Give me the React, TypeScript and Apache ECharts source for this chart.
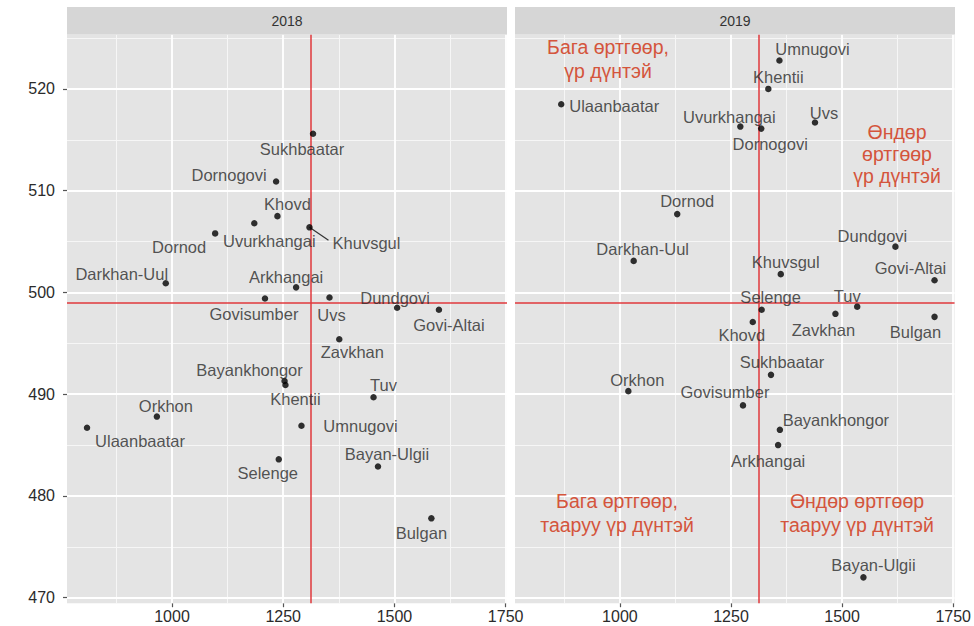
import { useEffect, useRef } from "react";
import * as echarts from "echarts";

// ---- data ----
const regions = [
  "Arkhangai", "Bayan-Ulgii", "Bayankhongor", "Bulgan", "Govi-Altai", "Govisumber",
  "Darkhan-Uul", "Dornogovi", "Dornod", "Dundgovi", "Zavkhan", "Orkhon",
  "Uvurkhangai", "Umnugovi", "Sukhbaatar", "Selenge", "Tuv", "Uvs",
  "Khovd", "Khuvsgul", "Khentii", "Ulaanbaatar",
];
const cost2018 = [1279, 1463, 1253, 1583, 1600, 1209, 986, 1234, 1097, 1506, 1376, 966, 1185, 1291, 1317, 1240, 1453, 1354, 1237, 1309, 1255, 809];
const score2018 = [500.5, 482.9, 491.3, 477.8, 498.3, 499.4, 500.9, 510.9, 505.8, 498.5, 495.4, 487.8, 506.8, 486.9, 515.6, 483.6, 489.7, 499.5, 507.5, 506.4, 490.9, 486.7];
const cost2019 = [1356, 1548, 1360, 1708, 1708, 1277, 1031, 1318, 1129, 1620, 1485, 1019, 1271, 1359, 1340, 1319, 1534, 1439, 1299, 1362, 1334, 868];
const score2019 = [485.0, 472.0, 486.5, 497.6, 501.2, 488.9, 503.1, 516.1, 507.7, 504.5, 497.9, 490.3, 516.3, 522.8, 491.9, 498.3, 498.6, 516.7, 497.1, 501.8, 520.0, 518.5];
const years = ["2018", "2019"];
const refCost = [1311, 1312];
const refScore = [499, 499];
const xTicks = [1000, 1250, 1500, 1750];
const xMinorTicks = [875, 1125, 1375, 1625];
const yTicks = [470, 480, 490, 500, 510, 520];
const yMinorTicks = [475, 485, 495, 505, 515, 525];
const notesTopLeft = ["Бага өртгөөр,", "үр дүнтэй"];
const notesTopRight = ["Өндөр", "өртгөөр", "үр дүнтэй"];
const notesBottomLeft = ["Бага өртгөөр,", "тааруу үр дүнтэй"];
const notesBottomRight = ["Өндөр өртгөөр", "тааруу үр дүнтэй"];

// ---- layout (label placement in pixels, like ggrepel) ----
const labelOffsets: Record<string, number[]>[] = [
  {
    Sukhbaatar: [-11, 15], Dornogovi: [-47, -7], Khovd: [10, -12], Uvurkhangai: [15, 18],
    Dornod: [-36, 14], Khuvsgul: [57, 16], "Darkhan-Uul": [-44, -9], Arkhangai: [-10, -10],
    Govisumber: [-11, 15], Uvs: [2, 17], Dundgovi: [-2, -10], "Govi-Altai": [10, 15],
    Zavkhan: [13, 13], Bayankhongor: [-35, -11], Khentii: [10, 14], Tuv: [10, -12],
    Orkhon: [9, -11], Ulaanbaatar: [53, 13], Umnugovi: [59, 0], Selenge: [-11, 14],
    "Bayan-Ulgii": [9, -12], Bulgan: [-10, 15],
  },
  {
    Umnugovi: [33, -11], Khentii: [10, -12], Ulaanbaatar: [53, 2], Uvurkhangai: [-11, -10],
    Dornogovi: [9, 15], Uvs: [9, -10], Dornod: [10, -13], Dundgovi: [-23, -11],
    "Darkhan-Uul": [9, -12], Khuvsgul: [5, -12], "Govi-Altai": [-24, -12], Selenge: [9, -13],
    Tuv: [-10, -11], Zavkhan: [-12, 16], Bulgan: [-19, 15], Khovd: [-11, 13],
    Sukhbaatar: [11, -13], Orkhon: [9, -11], Govisumber: [-18, -13], Bayankhongor: [56, -10],
    Arkhangai: [-10, 16], "Bayan-Ulgii": [10, -12],
  },
];

const FONT = "'Liberation Sans', Arial, sans-serif";
const X_MIN = 764;
const X_MAX = 1753;
const Y_MIN = 469.46;
const Y_MAX = 525.34;
const PANELS = [
  { left: 67, width: 440 },
  { left: 515, width: 440 },
];
const TOP = 34.6;
const BOTTOM = 603.2;
const NOTE_COLOR = "#D4553C";

export default function App() {
  const ref = useRef<HTMLDivElement>(null);

  useEffect(() => {
    if (!ref.current) return;
    const chart = echarts.init(ref.current, null, { renderer: "svg" });
    const costs = [cost2018, cost2019];
    const scores = [score2018, score2019];

    const grids = PANELS.map((p) => ({
      left: p.left,
      width: p.width,
      top: TOP,
      height: BOTTOM - TOP,
      show: true,
      backgroundColor: "#E4E4E4",
      borderWidth: 0,
    }));

    const xAxes = PANELS.map((_, i) => ({
      type: "value",
      gridIndex: i,
      min: X_MIN,
      max: X_MAX,
      axisLine: { show: false },
      splitLine: { show: false },
      axisTick: { show: true, length: 4, customValues: xTicks, lineStyle: { color: "#555", width: 1.2 } },
      axisLabel: {
        show: true,
        customValues: xTicks,
        formatter: (v: number) => String(v),
        margin: 5,
        fontSize: 16,
        color: "#2b2b2b",
        fontFamily: FONT,
        hideOverlap: false,
        showMinLabel: true,
        showMaxLabel: true,
      },
    }));

    const yAxes = PANELS.map((_, i) => ({
      type: "value",
      gridIndex: i,
      min: Y_MIN,
      max: Y_MAX,
      axisLine: { show: false },
      splitLine: { show: false },
      axisTick: { show: i === 0, length: 4, customValues: yTicks, lineStyle: { color: "#555", width: 1.2 } },
      axisLabel: {
        show: i === 0,
        customValues: yTicks,
        formatter: (v: number) => String(v),
        margin: 12,
        fontSize: 16,
        color: "#2b2b2b",
        fontFamily: FONT,
      },
    }));

    const series: any[] = [];
    PANELS.forEach((_, i) => {
      // grid lines
      series.push({
        type: "scatter",
        xAxisIndex: i,
        yAxisIndex: i,
        data: [],
        z: 1,
        silent: true,
        markLine: {
          z: 1,
          silent: true,
          symbol: ["none", "none"],
          label: { show: false },
          animation: false,
          data: [
            ...xMinorTicks.map((v) => ({ xAxis: v, lineStyle: { color: "#F6F6F6", width: 1, type: "solid" } })),
            ...yMinorTicks.map((v) => ({ yAxis: v, lineStyle: { color: "#F6F6F6", width: 1, type: "solid" } })),
            ...xTicks.map((v) => ({ xAxis: v, lineStyle: { color: "#FFFFFF", width: 1.8, type: "solid" } })),
            ...yTicks.map((v) => ({ yAxis: v, lineStyle: { color: "#FFFFFF", width: 1.8, type: "solid" } })),
          ],
        },
      });
      // reference lines
      series.push({
        type: "scatter",
        xAxisIndex: i,
        yAxisIndex: i,
        data: [],
        z: 2,
        silent: true,
        markLine: {
          z: 2,
          silent: true,
          symbol: ["none", "none"],
          label: { show: false },
          animation: false,
          lineStyle: { color: "#E0383C", width: 1.5, type: "solid" },
          data: [{ xAxis: refCost[i] }, { yAxis: refScore[i] }],
        },
      });
      // points
      series.push({
        type: "scatter",
        name: years[i],
        xAxisIndex: i,
        yAxisIndex: i,
        z: 10,
        symbol: "circle",
        symbolSize: 6.5,
        itemStyle: { color: "#000000" },
        silent: true,
        label: {
          show: true,
          position: "inside",
          formatter: "{b}",
          fontSize: 16.5,
          color: "#2a2a2a",
          fontFamily: FONT,
          textBorderWidth: 0,
          textBorderColor: "transparent",
        },
        data: regions.map((r, k) => ({
          name: r,
          value: [costs[i][k], scores[i][k]],
          label: { offset: labelOffsets[i][r] || [0, -12] },
        })),
      });
    });

    const noteText = (lines: string[], cx: number, cy: number, lh: number) => ({
      type: "text",
      x: cx,
      y: cy,
      z: 20,
      style: {
        text: lines.join("\n"),
        fill: NOTE_COLOR,
        font: `19.5px ${FONT}`,
        align: "center",
        verticalAlign: "top",
        lineHeight: lh,
      },
    });

    const graphic: any[] = [];
    PANELS.forEach((p, i) => {
      graphic.push({
        type: "rect",
        shape: { x: p.left, y: 7, width: p.width, height: TOP - 7 },
        style: { fill: "#D6D6D6" },
        z: 5,
      });
      graphic.push({
        type: "text",
        x: p.left + p.width / 2,
        y: 21,
        z: 6,
        style: {
          text: years[i],
          fill: "#333",
          font: `14px ${FONT}`,
          align: "center",
          verticalAlign: "middle",
        },
      });
    });
    graphic.push(noteText(notesTopLeft, 608, 35, 24));
    graphic.push(noteText(notesTopRight, 897, 121, 22));
    graphic.push(noteText(notesBottomLeft, 617, 489, 24));
    graphic.push(noteText(notesBottomRight, 857, 489, 24));

    chart.setOption({
      animation: false,
      backgroundColor: "#FFFFFF",
      grid: grids,
      xAxis: xAxes,
      yAxis: yAxes,
      series,
      graphic,
    });

    // ggrepel-style connector for Khuvsgul (2018)
    const k = regions.indexOf("Khuvsgul");
    const p = chart.convertToPixel({ xAxisIndex: 0, yAxisIndex: 0 }, [cost2018[k], score2018[k]]) as number[];
    if (p) {
      chart.setOption({
        graphic: [
          ...graphic,
          {
            type: "line",
            z: 7,
            shape: { x1: p[0], y1: p[1], x2: p[0] + 19, y2: p[1] + 13 },
            style: { stroke: "#333", lineWidth: 1.2 },
          },
        ],
      });
    }

    return () => {
      chart.dispose();
    };
  }, []);

  return (
    <div
      ref={ref}
      style={{ position: "absolute", left: 0, top: 0, width: 974, height: 626, background: "#fff" }}
    />
  );
}
